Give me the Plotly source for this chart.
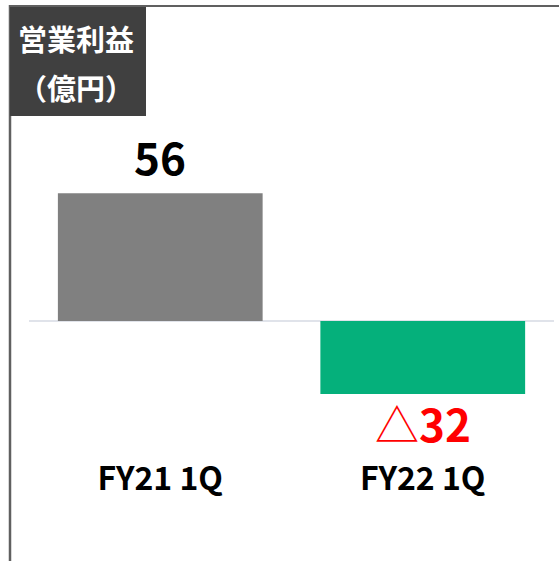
import plotly.graph_objects as go

# data
periods = ["FY21 1Q", "FY22 1Q"]
profit = [56, -32]          # 営業利益（億円）
labels = ["56", "△32"]
bar_colors = ["#808080", "#05b07b"]
label_colors = ["#000000", "#ff0000"]
box_title = ["営業利益", "（億円）"]

W, H = 559, 561
L, R, T, B = 29, 5, 120, 104   # margins
FONT = "Noto Sans CJK JP"
SCALE = 2.28                   # px per 億円
ZERO = 321                     # pixel row of the zero line

def px(x):   # pixel -> paper x
    return (x - L) / (W - L - R)

def py(y):   # pixel -> paper y
    return (H - B - y) / (H - T - B)

fig = go.Figure()
fig.add_trace(go.Bar(
    x=periods, y=profit, width=0.78,
    marker=dict(color=bar_colors, line=dict(width=0)),
    hoverinfo="skip",
))

# value labels, the △ sign is drawn thin, the number bold
for p, v, t, c in zip(periods, profit, labels, label_colors):
    txt = t[0] + "<b>" + t[1:] + "</b>" if t.startswith("△") else "<b>" + t + "</b>"
    fig.add_annotation(
        x=p, y=v, text=txt, showarrow=False, yanchor="middle",
        yshift=37 if v > 0 else -29,
        font=dict(family=FONT, size=44, color=c),
    )

# frame lines and title box
fig.add_shape(type="line", xref="paper", yref="paper",
              x0=px(9), x1=px(W), y0=py(6), y1=py(6),
              line=dict(color="#606060", width=2))
fig.add_shape(type="line", xref="paper", yref="paper",
              x0=px(10), x1=px(10), y0=py(5), y1=py(H),
              line=dict(color="#606060", width=2.5))
fig.add_shape(type="rect", xref="paper", yref="paper",
              x0=px(10), x1=px(146), y0=py(7), y1=py(116),
              fillcolor="#404040", line=dict(width=0), layer="above")
for i, t in enumerate(box_title):
    fig.add_annotation(xref="paper", yref="paper", x=px(76), y=py(38 + 49 * i),
                       text="<b>" + t + "</b>", showarrow=False,
                       xanchor="center", yanchor="middle",
                       font=dict(family=FONT, size=29, color="white"))

top_val = (ZERO - T) / SCALE
bot_val = (H - B - ZERO) / SCALE

fig.update_layout(
    width=W, height=H,
    margin=dict(l=L, r=R, t=T, b=B),
    paper_bgcolor="white", plot_bgcolor="white",
    showlegend=False,
    font=dict(family=FONT),
    xaxis=dict(range=[-0.5, 1.5], showgrid=False, showline=False, ticks="",
               tickfont=dict(family=FONT, size=32, color="#000000", weight="bold")),
    yaxis=dict(range=[-bot_val, top_val], showgrid=False, showticklabels=False,
               zeroline=True, zerolinecolor="#e0e3ea", zerolinewidth=2,
               fixedrange=True),
)

fig.write_html("out.html", config={"displayModeBar": False},
               post_script="document.body.style.margin='0';")
